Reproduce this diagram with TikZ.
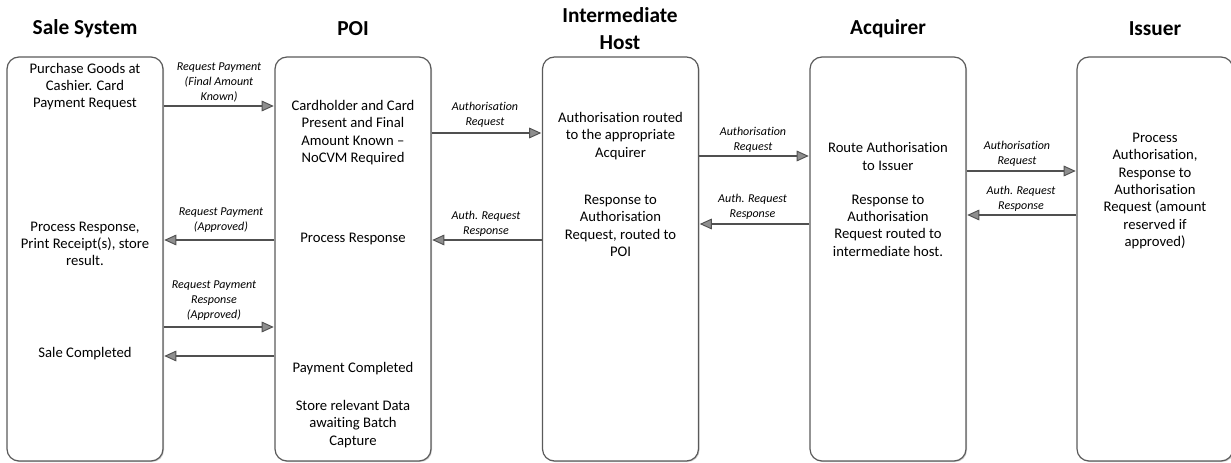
\documentclass[tikz,border=0pt]{standalone}
\usepackage{fontspec}
\setmainfont{Carlito}[Ligatures={NoCommon,NoDiscretionary,NoContextual}]
\usetikzlibrary{arrows.meta,shadows}
\definecolor{edge}{HTML}{5A5A5A}
\definecolor{wire}{HTML}{505050}
\definecolor{tipfill}{HTML}{8E8E8E}
\tikzset{
  lane/.style={draw=edge, line width=0.9pt, rounded corners=9pt, fill=white,
    minimum width=117pt, minimum height=303pt, inner sep=0pt,
    drop shadow={shadow xshift=0.8pt, shadow yshift=-0.8pt, fill=black!18, opacity=1}},
  title/.style={font=\fontsize{16}{20}\selectfont\bfseries, align=center},
  body/.style={font=\fontsize{11}{13}\selectfont, align=center, inner sep=0pt},
  lbl/.style={font=\fontsize{9}{11.25}\selectfont\itshape, align=center, inner sep=0pt},
  arr/.style={draw=wire, line width=1.2pt,
    -{Triangle[length=9pt, width=8pt, fill=tipfill, line width=0.7pt]}, shorten >=0.5pt},
}
\begin{document}
\begin{tikzpicture}[x=0.75pt, y=-0.75pt]
\useasboundingbox (0,0) rectangle (1231,463);
% titles
\node[title] (t1) at (85,29) {Sale System};
\node[title] (t2) at (353,29) {POI};
\node[title] (t3) at (620,28.5) {Intermediate\\Host};
\node[title] (t4) at (888,29) {Acquirer};
\node[title] (t5) at (1155,29) {Issuer};
% lanes
\node[lane] (b1) at (85,259) {};
\node[lane] (b2) at (353,259) {};
\node[lane] (b3) at (620.5,259) {};
\node[lane] (b4) at (888,259) {};
\node[lane] (b5) at (1155,259) {};
% box texts
\node[body] (s1) at (85,86.7) {Purchase Goods at\\Cashier. Card\\Payment Request};
\node[body] (s2) at (85,244) {Process Response,\\Print Receipt(s), store\\result.};
\node[body] (s3) at (85,354) {Sale Completed};
\node[body] (p1) at (353,132.5) {Cardholder and Card\\Present and Final\\Amount Known --\\NoCVM Required};
\node[body] (p2) at (353,239) {Process Response};
\node[body] (p3) at (353,369) {Payment Completed};
\node[body] (p4) at (353,424) {Store relevant Data\\awaiting Batch\\Capture};
\node[body] (h1) at (620.5,136) {Authorisation routed\\to the appropriate\\Acquirer};
\node[body] (h2) at (620.5,226) {Response to\\Authorisation\\Request, routed to\\POI};
\node[body] (a1) at (888,156.5) {Route Authorisation\\to Issuer};
\node[body] (a2) at (888,225.5) {Response to\\Authorisation\\Request routed to\\intermediate host.};
\node[body] (i1) at (1155,191) {Process\\Authorisation,\\Response to\\Authorisation\\Request (amount\\reserved if\\approved)};
% arrows Sale System <-> POI
\draw[arr] (b1.east |- 0,106) -- (b2.west |- 0,106);
\node[lbl] (l1) at (219,82) {Request Payment\\(Final Amount\\Known)};
\draw[arr] (b2.west |- 0,240) -- (b1.east |- 0,240);
\node[lbl] (l2) at (221,220) {Request Payment\\(Approved)};
\draw[arr] (b1.east |- 0,327) -- (b2.west |- 0,327);
\node[lbl] (l3) at (214,301) {Request Payment\\Response\\(Approved)};
\draw[arr] (b2.west |- 0,356) -- (b1.east |- 0,356);
% POI <-> Intermediate Host
\draw[arr] (b2.east |- 0,133) -- (b3.west |- 0,133);
\node[lbl] (l4) at (485,114.5) {Authorisation\\Request};
\draw[arr] (b3.west |- 0,240) -- (b2.east |- 0,240);
\node[lbl] (l5) at (486,223.5) {Auth. Request\\Response};
% Intermediate Host <-> Acquirer
\draw[arr] (b3.east |- 0,156) -- (b4.west |- 0,156);
\node[lbl] (l6) at (753,139.5) {Authorisation\\Request};
\draw[arr] (b4.west |- 0,224) -- (b3.east |- 0,224);
\node[lbl] (l7) at (752.5,206.5) {Auth. Request\\Response};
% Acquirer <-> Issuer
\draw[arr] (b4.east |- 0,171) -- (b5.west |- 0,171);
\node[lbl] (l8) at (1017,153.5) {Authorisation\\Request};
\draw[arr] (b5.west |- 0,215) -- (b4.east |- 0,215);
\node[lbl] (l9) at (1021,198.5) {Auth. Request\\Response};
\end{tikzpicture}
\end{document}
